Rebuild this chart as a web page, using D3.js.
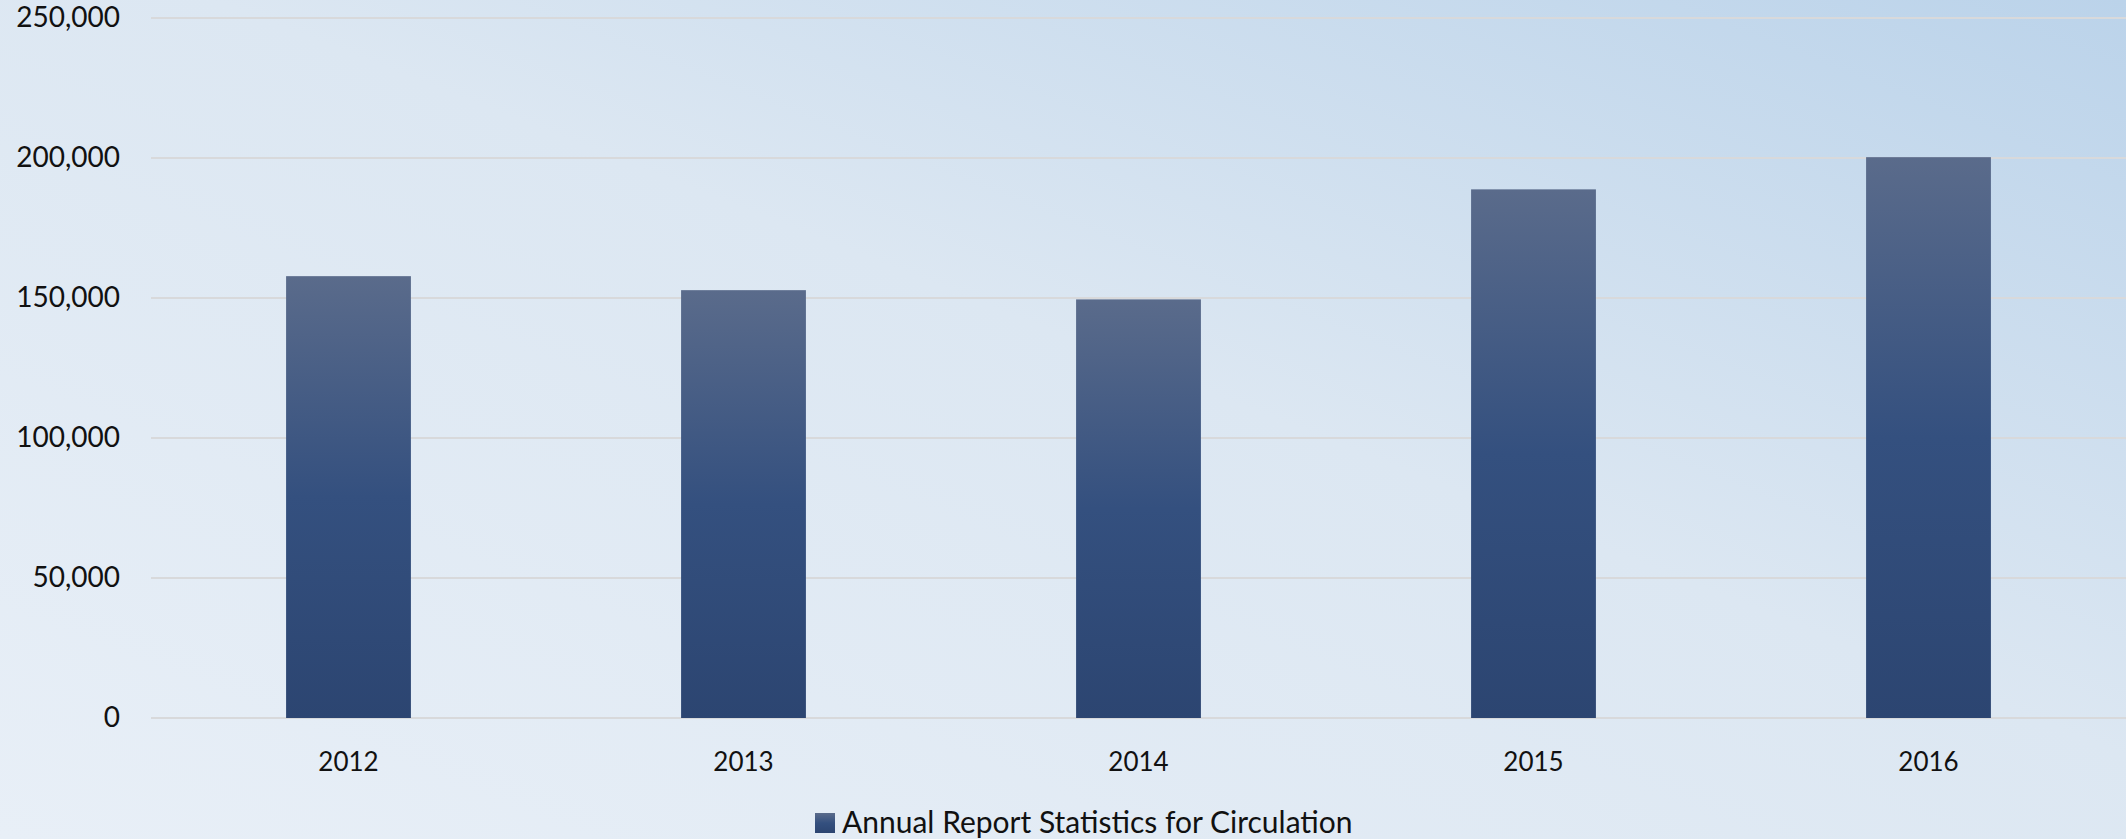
<!DOCTYPE html>
<html>
<head>
<meta charset="utf-8">
<script src="https://cdn.jsdelivr.net/npm/d3@7"></script>
<style>
  html, body { margin: 0; padding: 0; background: #e2ebf4; }
  #chart { width: 2126px; height: 839px; }
</style>
</head>
<body>
<div id="chart"></div>
<script>
const years = ["2012", "2013", "2014", "2015", "2016"];
const circulation = [157800, 152800, 149500, 188800, 200300];
const yTicks = [0, 50000, 100000, 150000, 200000, 250000];
const seriesName = "Annual Report Statistics for Circulation";

function draw() {
  const width = 2126;
  const height = 839;
  const margin = { top: 18, right: 0, bottom: 121, left: 151 };

  const svg = d3.select('#chart')
      .append('svg')
      .attr('width', width)
      .attr('height', height);

  const defs = svg.append('defs');

  // background, light at bottom-left, bluer at top-right
  const bg = defs.append('linearGradient')
      .attr('id', 'bg')
      .attr('x1', '0%').attr('y1', '100%')
      .attr('x2', '100%').attr('y2', '0%');
  bg.append('stop').attr('offset', '0%').attr('stop-color', '#e8eff7');
  bg.append('stop').attr('offset', '55%').attr('stop-color', '#dce7f2');
  bg.append('stop').attr('offset', '100%').attr('stop-color', '#bbd3ea');

  const barGrad = defs.append('linearGradient')
      .attr('id', 'barGrad')
      .attr('x1', '0').attr('y1', '0')
      .attr('x2', '0').attr('y2', '1');
  barGrad.append('stop').attr('offset', '0%').attr('stop-color', '#5a6b8b');
  barGrad.append('stop').attr('offset', '50%').attr('stop-color', '#34507f');
  barGrad.append('stop').attr('offset', '100%').attr('stop-color', '#2c4571');

  svg.append('rect')
      .attr('width', width)
      .attr('height', height)
      .attr('fill', 'url(#bg)');

  const x = d3.scaleBand()
      .domain(years)
      .range([margin.left, width - margin.right])
      .paddingInner(0.684)
      .paddingOuter(0.342);

  const y = d3.scaleLinear()
      .domain([0, 250000])
      .range([height - margin.bottom, margin.top]);

  // gridlines
  svg.append('g')
      .selectAll('line')
      .data(yTicks)
      .enter()
      .append('line')
      .attr('x1', margin.left)
      .attr('x2', width)
      .attr('y1', d => y(d))
      .attr('y2', d => y(d))
      .attr('stroke', '#d8d9db')
      .attr('stroke-width', 2);

  // y axis labels
  const yAxis = d3.axisLeft(y)
      .tickValues(yTicks)
      .tickFormat(d3.format(','))
      .tickSize(0)
      .tickPadding(31);

  svg.append('g')
      .attr('transform', 'translate(' + margin.left + ',0)')
      .call(yAxis)
      .call(g => g.select('.domain').remove())
      .selectAll('text')
      .attr('font-family', 'Lato, sans-serif')
      .attr('font-size', 28)
      .attr('fill', '#111');

  // bars
  svg.append('g')
      .selectAll('rect')
      .data(circulation)
      .enter()
      .append('rect')
      .attr('x', (d, i) => x(years[i]))
      .attr('y', d => y(d))
      .attr('width', x.bandwidth())
      .attr('height', d => y(0) - y(d))
      .attr('fill', 'url(#barGrad)');

  // x axis labels
  const xAxis = d3.axisBottom(x)
      .tickSize(0)
      .tickPadding(35);

  svg.append('g')
      .attr('transform', 'translate(0,' + y(0) + ')')
      .call(xAxis)
      .call(g => g.select('.domain').remove())
      .selectAll('text')
      .attr('font-family', 'Lato, sans-serif')
      .attr('font-size', 26)
      .attr('fill', '#111');

  // legend
  const legend = svg.append('g')
      .attr('transform', 'translate(815,0)');
  legend.append('rect')
      .attr('x', 0)
      .attr('y', 813)
      .attr('width', 20)
      .attr('height', 20)
      .attr('fill', 'url(#barGrad)');
  legend.append('text')
      .attr('x', 27)
      .attr('y', 833)
      .attr('font-family', 'Lato, sans-serif')
      .attr('font-size', 30)
      .attr('fill', '#111')
      .text(seriesName);
}

draw();
</script>
</body>
</html>
